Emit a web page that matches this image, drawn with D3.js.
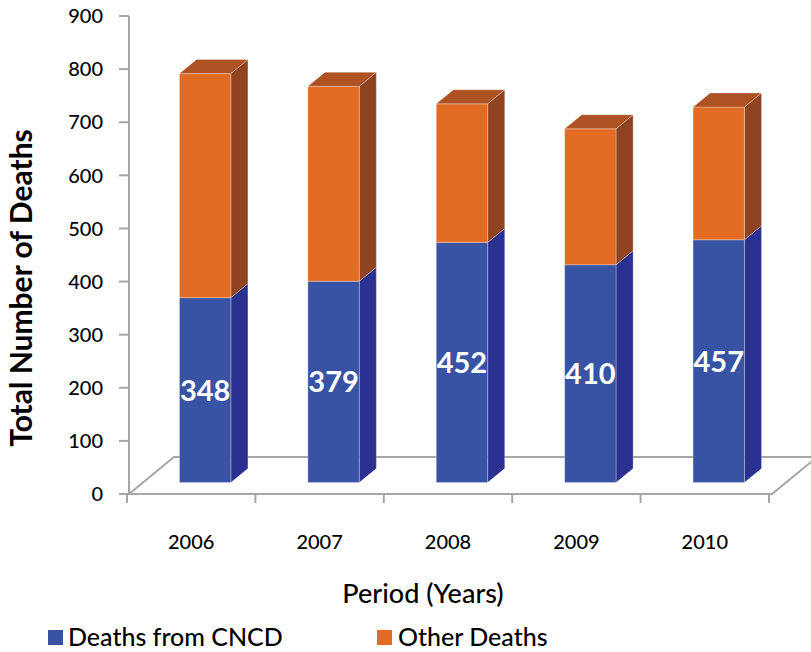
<!DOCTYPE html>
<html>
<head>
<meta charset="utf-8">
<script src="https://cdn.jsdelivr.net/npm/d3@7"></script>
<style>
  html, body { margin: 0; padding: 0; background: #fff; }
  svg { display: block; font-family: Lato, "Open Sans", sans-serif; }
</style>
</head>
<body>
<svg id="chart" width="811" height="652"></svg>
<script>
// ---- data ----
const years = ["2006", "2007", "2008", "2009", "2010"];
const cncdDeaths = [348, 379, 452, 410, 457];
const otherDeaths = [422, 367, 261, 256, 250];
const yTickValues = [0, 100, 200, 300, 400, 500, 600, 700, 800, 900];
const seriesNames = ["Deaths from CNCD", "Other Deaths"];

// ---- layout ----
const W = 811, H = 652;
const svg = d3.select("#chart");
const axisX = 129, floorY = 494;
const depthX = 45, depthY = 37;      // floor depth (oblique projection)
const f1 = 0.31, f2 = 0.69;          // bar front / back depth fractions
const gridColor = "#A6A6A6";

const y = d3.scaleLinear().domain([0, 900]).range([floorY, 16]);
const x = d3.scaleBand().domain(years).range([127, 769]).padding(0);
const barW = x.bandwidth() * 0.40;

const colors = {
  blue: { front: "#3953A4", side: "#2B3190", top: "#4A62B0" },
  orange: { front: "#E36C25", side: "#8E4421", top: "#AE5224" }
};

// floor
svg.append("polygon")
  .attr("points", [
    [axisX, floorY], [769 + 3, floorY],
    [769 + 3 + depthX, floorY - depthY], [axisX + depthX, floorY - depthY]
  ].map(p => p.join(",")).join(" "))
  .attr("fill", "#fff").attr("stroke", gridColor).attr("stroke-width", 2)
  .attr("stroke-linejoin", "miter");

// y axis line
svg.append("line")
  .attr("x1", axisX).attr("x2", axisX)
  .attr("y1", y(900)).attr("y2", floorY)
  .attr("stroke", gridColor).attr("stroke-width", 2);

// y ticks + labels
const yt = svg.append("g");
yt.selectAll("line").data(yTickValues).join("line")
  .attr("x1", axisX - 10).attr("x2", axisX)
  .attr("y1", d => y(d)).attr("y2", d => y(d))
  .attr("stroke", gridColor).attr("stroke-width", 2);
yt.selectAll("text").data(yTickValues).join("text")
  .attr("x", 103).attr("y", d => y(d))
  .attr("dy", "0.36em")
  .attr("text-anchor", "end")
  .attr("font-size", 20).attr("font-weight", 500).attr("fill", "#000")
  .text(d => d);

// x ticks on the front floor edge
const xBounds = years.map(d => x(d)).concat([x(years[years.length - 1]) + x.bandwidth()]);
svg.append("g").selectAll("line").data(xBounds).join("line")
  .attr("x1", d => d).attr("x2", d => d)
  .attr("y1", floorY).attr("y2", floorY + 9)
  .attr("stroke", gridColor).attr("stroke-width", 2);

// x labels
svg.append("g").selectAll("text").data(years).join("text")
  .attr("x", d => x(d) + x.bandwidth() / 2)
  .attr("y", 549)
  .attr("text-anchor", "middle")
  .attr("font-size", 20).attr("font-weight", 500).attr("fill", "#000")
  .text(d => d);

// bars (3D stacked)
const fdx = f1 * depthX, fdy = f1 * depthY;
const ddx = (f2 - f1) * depthX, ddy = (f2 - f1) * depthY;
const barsG = svg.append("g");

function face(g, pts, fill) {
  g.append("polygon")
    .attr("points", pts.map(p => p.join(",")).join(" "))
    .attr("fill", fill)
    .attr("stroke", "rgba(255,255,255,0.35)").attr("stroke-width", 0.8);
}

years.forEach((yr, i) => {
  const g = barsG.append("g");
  const cx = x(yr) + x.bandwidth() / 2 + fdx;
  const x0 = cx - barW / 2, x1 = cx + barW / 2;
  const segs = [
    { lo: 0, hi: cncdDeaths[i], c: colors.blue },
    { lo: cncdDeaths[i], hi: cncdDeaths[i] + otherDeaths[i], c: colors.orange }
  ];
  segs.forEach((s, k) => {
    const yLo = y(s.lo) - fdy, yHi = y(s.hi) - fdy;
    // side
    face(g, [[x1, yLo], [x1, yHi], [x1 + ddx, yHi - ddy], [x1 + ddx, yLo - ddy]], s.c.side);
    // front
    face(g, [[x0, yLo], [x1, yLo], [x1, yHi], [x0, yHi]], s.c.front);
    // top (only visible on top segment)
    if (k === segs.length - 1) {
      face(g, [[x0, yHi], [x1, yHi], [x1 + ddx, yHi - ddy], [x0 + ddx, yHi - ddy]], s.c.top);
    }
  });
  // value label in the CNCD segment
  g.append("text")
    .attr("x", cx)
    .attr("y", (y(0) + y(cncdDeaths[i])) / 2 - fdy)
    .attr("dy", "0.36em")
    .attr("text-anchor", "middle")
    .attr("font-size", 29).attr("font-weight", 700).attr("fill", "#fff")
    .text(cncdDeaths[i]);
});

// axis titles
svg.append("text")
  .attr("transform", "translate(32,288) rotate(-90)")
  .attr("text-anchor", "middle")
  .attr("font-size", 30).attr("font-weight", 700).attr("fill", "#000")
  .text("Total Number of Deaths");

svg.append("text")
  .attr("x", 423).attr("y", 603)
  .attr("text-anchor", "middle")
  .attr("font-size", 27).attr("font-weight", 500).attr("fill", "#000")
  .text("Period (Years)");

// legend
const legendItems = [
  { name: seriesNames[0], color: colors.blue.front, sx: 48, tx: 68 },
  { name: seriesNames[1], color: colors.orange.front, sx: 377, tx: 398 }
];
const lg = svg.append("g");
legendItems.forEach(it => {
  lg.append("rect").attr("x", it.sx).attr("y", 630).attr("width", 15).attr("height", 15)
    .attr("fill", it.color);
  lg.append("text").attr("x", it.tx).attr("y", 646)
    .attr("font-size", 25).attr("font-weight", 500).attr("fill", "#000")
    .text(it.name);
});
</script>
</body>
</html>
